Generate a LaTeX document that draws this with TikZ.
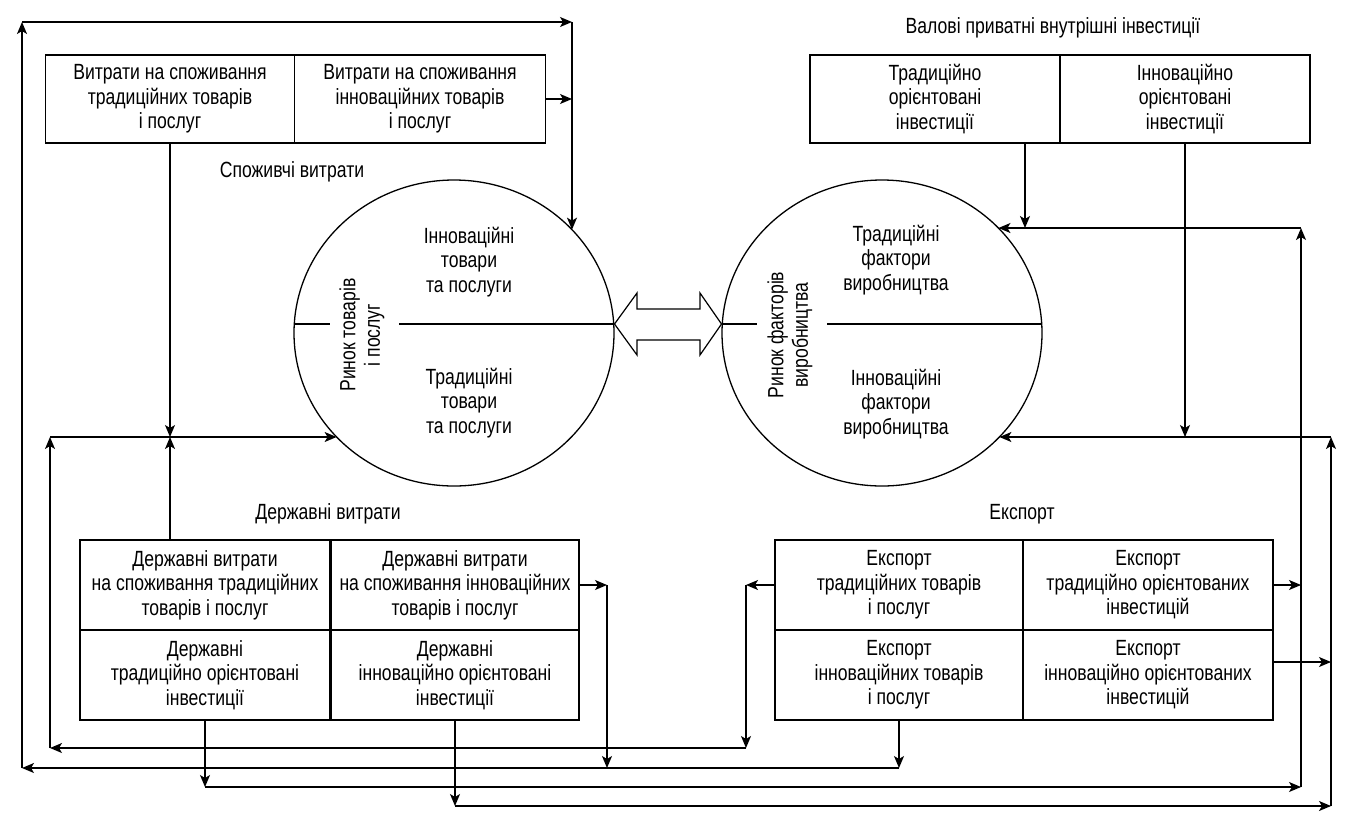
\documentclass[tikz,border=0pt]{standalone}
\usepackage{fontspec}
\setmainfont{Liberation Sans}[FakeStretch=0.80]
\usetikzlibrary{arrows.meta,shapes.geometric,calc}
\begin{document}
\begin{tikzpicture}[x=1pt,y=-1pt,line width=1.3pt,
  every node/.append style={font=\fontsize{22}{24.5}\selectfont, align=center, inner sep=0pt},
  cell/.style={draw, minimum height=88pt},
  cellb/.style={draw, minimum height=90pt},
  circ/.style={draw, ellipse, minimum width=320pt, minimum height=306pt},
  arr/.style={-{Stealth[length=12pt,width=10pt,inset=3pt]}}
]
\fill[white] (0,0) rectangle (1370,812);
\useasboundingbox (0,0) rectangle (1370,812);

% top boxes
\node[cell, minimum width=249pt] (c1) at (170,99) {Витрати на споживання\\традиційних товарів\\і послуг};
\node[cell, minimum width=251pt] (c2) at (420,99) {Витрати на споживання\\інноваційних товарів\\і послуг};
\node[cell, minimum width=250pt] (c3) at (935,99) {Традиційно\\орієнтовані\\інвестиції};
\node[cell, minimum width=250pt] (c4) at (1185,99) {Інноваційно\\орієнтовані\\інвестиції};

% government box
\node[cellb, minimum width=250pt] (g1) at (205,585) {Державні витрати\\на споживання традиційних\\товарів і послуг};
\node[cellb, minimum width=248pt] (g2) at (455,585) {Державні витрати\\на споживання інноваційних\\товарів і послуг};
\node[cellb, minimum width=250pt] (g3) at (205,675) {Державні\\традиційно орієнтовані\\інвестиції};
\node[cellb, minimum width=248pt] (g4) at (455,675) {Державні\\інноваційно орієнтовані\\інвестиції};

% export box
\node[cellb, minimum width=248pt] (e1) at (899,585) {Експорт\\традиційних товарів\\і послуг};
\node[cellb, minimum width=250pt] (e2) at (1148,585) {Експорт\\традиційно орієнтованих\\інвестицій};
\node[cellb, minimum width=248pt] (e3) at (899,675) {Експорт\\інноваційних товарів\\і послуг};
\node[cellb, minimum width=250pt] (e4) at (1148,675) {Експорт\\інноваційно орієнтованих\\інвестицій};

% labels
\node (lcons) at (292,172) {Споживчі витрати};
\node (lgov) at (328,514) {Державні витрати};
\node (lexp) at (1022,514) {Експорт};
\node (linv) at (1053,28) {Валові приватні внутрішні інвестиції};

% markets
\node[circ] (L) at (454,333) {};
\node[circ] (R) at (882,333) {};
\draw (294.3,324) -- (330,324);
\draw (399,324) -- (613.7,324);
\draw (722.3,324) -- (757,324);
\draw (827,324) -- (1041.7,324);
\node[rotate=90] (Llab) at (362,335) {Ринок товарів\\і послуг};
\node[rotate=90] (Rlab) at (790,335) {Ринок факторів\\виробництва};
\node (Lt) at (469,262) {Інноваційні\\товари\\та послуги};
\node (Lb) at (469,403) {Традиційні\\товари\\та послуги};
\node (Rt) at (896,260) {Традиційні\\фактори\\виробництва};
\node (Rb) at (896,404) {Інноваційні\\фактори\\виробництва};

% double arrow between markets
\draw[line width=1.2pt] (614.5,324) -- (637,293) -- (637,309) -- (700,309) -- (700,293) -- (721.5,324)
  -- (700,355) -- (700,340) -- (637,340) -- (637,355) -- cycle;

% border points
\path (L.center) ++(137.2:160 and 153) coordinate (Lsw);
\path (L.center) ++(-42.5:160 and 153) coordinate (Lnw);
\path (R.center) ++(-43.3:160 and 153) coordinate (Rne);
\path (R.center) ++(42.8:160 and 153) coordinate (Rse);

% level coordinates
\coordinate (yA) at (0,437);
\coordinate (yB) at (0,748);
\coordinate (yC) at (0,768);
\coordinate (yD) at (0,787);
\coordinate (yE) at (0,806);
\coordinate (yF) at (0,228);
\coordinate (yG) at (0,662);
\coordinate (xq) at (1025,0);

\coordinate (pL1) at (50,437);
\coordinate (pL2) at (50,748);
\coordinate (pB) at (746,748);
\coordinate (pBt) at (746,585);
\coordinate (pC0) at (22,768);
\coordinate (pCt) at (22,22);
\coordinate (pCr) at (572,22);
\coordinate (pG) at (607,768);
\coordinate (pD) at (1301,787);
\coordinate (pDt) at (1301,228);
\coordinate (pE) at (1331,806);
\coordinate (pEt) at (1331,437);

% left side flows
\draw[arr] (c1.south) -- (c1.south |- yA);
\draw[arr] (c1.south |- g1.north) -- (c1.south |- yA);
\draw[arr] (pL2) -- (pL1);
\draw[arr] (pL1) -- (pL1 -| Lsw);
\draw[arr] (e1.west) -- (pBt);
\draw[arr] (pBt) -- (pB);
\draw[arr] (pB) -- (pL2);

\draw[arr] (e3.south) -- (e3.south |- yC);
\draw[arr] (e3.south |- yC) -- (pC0);
\draw[arr] (pC0) -- (pCt);
\draw[arr] (pCt) -- (pCr);
\draw[arr] (pCr) -- (pCr |- Lnw);
\draw[arr] (c2.east) -- (c2.east -| pCr);
\draw[arr] (g2.east) -- (g2.east -| pG);
\draw[arr] (g2.east -| pG) -- (pG);

% right side flows
\draw[arr] (g3.south) -- (g3.south |- yD);
\draw[arr] (g3.south |- yD) -- (pD);
\draw[arr] (pD) -- (pDt);
\draw[arr] (pDt) -- (pDt -| Rne);
\draw[arr] (e2.east) -- (e2.east -| pD);
\draw[arr] (c3.south -| xq) -- (xq |- yF);

\draw[arr] (g4.south) -- (g4.south |- yE);
\draw[arr] (g4.south |- yE) -- (pE);
\draw[arr] (pE) -- (pEt);
\draw[arr] (pEt) -- (pEt -| Rse);
\draw[arr] (e4.east |- yG) -- (pE |- yG);
\draw[arr] (c4.south) -- (c4.south |- yA);
\end{tikzpicture}
\end{document}
